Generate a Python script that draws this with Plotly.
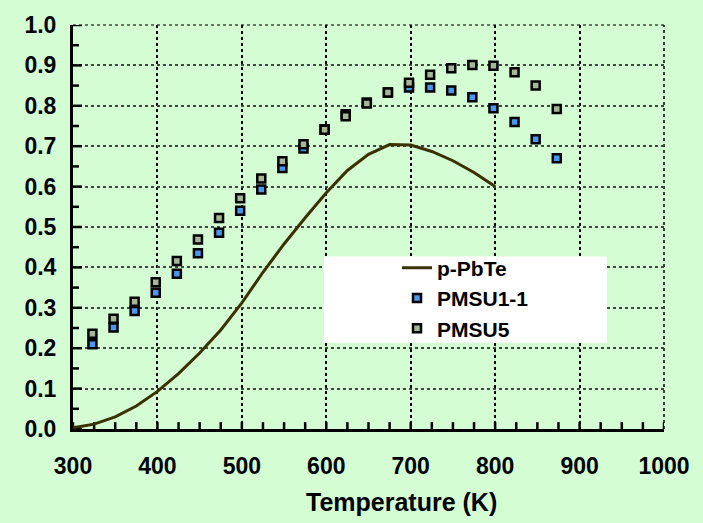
import plotly.graph_objects as go

# p-PbTe curve
pbte_T = [300, 325, 350, 375, 400, 425, 450, 475, 500, 525, 550, 575, 600, 625, 650, 675, 700, 725, 750, 775, 800]
pbte_zt = [0.003, 0.012, 0.030, 0.057, 0.093, 0.137, 0.188, 0.245, 0.312, 0.388, 0.458, 0.523, 0.585, 0.640, 0.680, 0.704, 0.703, 0.687, 0.664, 0.635, 0.600]

# Sample temperatures
samp_T = [323, 348, 373, 398, 423, 448, 473, 498, 523, 548, 573, 598, 623, 648, 673, 698, 723, 748, 773, 798, 823, 848, 873]
pmsu11_zt = [0.210, 0.251, 0.292, 0.337, 0.384, 0.435, 0.486, 0.540, 0.593, 0.646, 0.694, 0.742, 0.779, 0.808, 0.833, 0.845, 0.845, 0.838, 0.821, 0.794, 0.760, 0.717, 0.670]
pmsu5_zt = [0.236, 0.273, 0.315, 0.363, 0.416, 0.469, 0.522, 0.571, 0.620, 0.663, 0.705, 0.741, 0.774, 0.806, 0.833, 0.857, 0.877, 0.893, 0.901, 0.899, 0.883, 0.850, 0.792]

x_ticks = [300, 400, 500, 600, 700, 800, 900, 1000]
y_ticks = [0.0, 0.1, 0.2, 0.3, 0.4, 0.5, 0.6, 0.7, 0.8, 0.9, 1.0]
x_minor = [300 + 25 * i for i in range(29)]
y_minor = [round(0.05 * i, 2) for i in range(21)]

X_RANGE = [300, 1000]
Y_RANGE = [0, 1.0]
PLOT_W, PLOT_H = 591, 412  # plot-area size in px (for tick-mark lengths)

FONT = "Liberation Sans"
BG = "#d4fdd4"

# tick-mark paths built from the tick lists (inward-pointing)
dy = 7 / PLOT_H * (Y_RANGE[1] - Y_RANGE[0])
tx, ty = [], []
for v in x_minor:
    tx += [v, v, None]
    ty += [Y_RANGE[0], Y_RANGE[0] + dy, None]
for i, v in enumerate(y_minor):
    ln = 9 if i % 2 == 0 else 6
    dx = ln / PLOT_W * (X_RANGE[1] - X_RANGE[0])
    tx += [X_RANGE[0], X_RANGE[0] + dx, None]
    ty += [v, v, None]

fig = go.Figure()
fig.add_trace(go.Scatter(x=tx, y=ty, mode="lines", showlegend=False, hoverinfo="skip",
                         line=dict(color="black", width=2.5), cliponaxis=False))
fig.add_trace(go.Scatter(x=pbte_T, y=pbte_zt, mode="lines", name="p-PbTe",
                         line=dict(color="#3a3000", width=3), cliponaxis=False))
fig.add_trace(go.Scatter(x=samp_T, y=pmsu11_zt, mode="markers", name="PMSU1-1",
                         marker=dict(symbol="square", size=8, color="#4a97f0",
                                     line=dict(color="black", width=2.5))))
fig.add_trace(go.Scatter(x=samp_T, y=pmsu5_zt, mode="markers", name="PMSU5",
                         marker=dict(symbol="square", size=8, color="#a5b797",
                                     line=dict(color="black", width=2.5))))

shapes = [
    dict(type="rect", xref="paper", yref="paper",
         x0=(324 - 73) / PLOT_W, x1=(607 - 73) / PLOT_W,
         y0=(429 - 341) / PLOT_H, y1=(429 - 253) / PLOT_H,
         fillcolor="white", line=dict(width=0), layer="above"),
    dict(type="line", xref="paper", yref="paper", x0=0, x1=1, y0=1, y1=1,
         line=dict(color="#444444", width=1.5, dash="dot"), layer="below"),
    dict(type="line", xref="paper", yref="paper", x0=1, x1=1, y0=0, y1=1,
         line=dict(color="black", width=1.5, dash="dot"), layer="below"),
]

fig.update_layout(
    width=703, height=523,
    paper_bgcolor=BG, plot_bgcolor=BG,
    margin=dict(l=73, r=39, t=17, b=94),
    font=dict(family=FONT, size=23, color="black", weight="bold"),
    showlegend=True,
    legend=dict(x=(397 - 73) / PLOT_W, y=(429 - 244) / PLOT_H, xanchor="left", yanchor="top",
                bgcolor="rgba(0,0,0,0)", borderwidth=0,
                font=dict(family=FONT, size=21, color="black", weight="bold")),
    shapes=shapes,
    annotations=[dict(text="Temperature (K)", xref="paper", yref="paper",
                      x=(401 - 73) / PLOT_W, y=-(503 - 429) / PLOT_H, xanchor="center", yanchor="middle",
                      showarrow=False, font=dict(family=FONT, size=25, color="black", weight="bold"))],
)

fig.update_xaxes(range=X_RANGE, tickmode="array", tickvals=x_ticks, ticktext=[str(v) for v in x_ticks],
                 showline=True, linecolor="black", linewidth=3,
                 ticks="", ticklabelstandoff=14,
                 showgrid=True, gridcolor="black", gridwidth=1.5, griddash="dot",
                 zeroline=False)
fig.update_yaxes(range=Y_RANGE, tickmode="array", tickvals=y_ticks, ticktext=[f"{v:.1f}" for v in y_ticks],
                 showline=True, linecolor="black", linewidth=3,
                 ticks="", ticklabelstandoff=9,
                 showgrid=True, gridcolor="#444444", gridwidth=1.5, griddash="dot",
                 zeroline=False)

fig.write_html("out.html")
